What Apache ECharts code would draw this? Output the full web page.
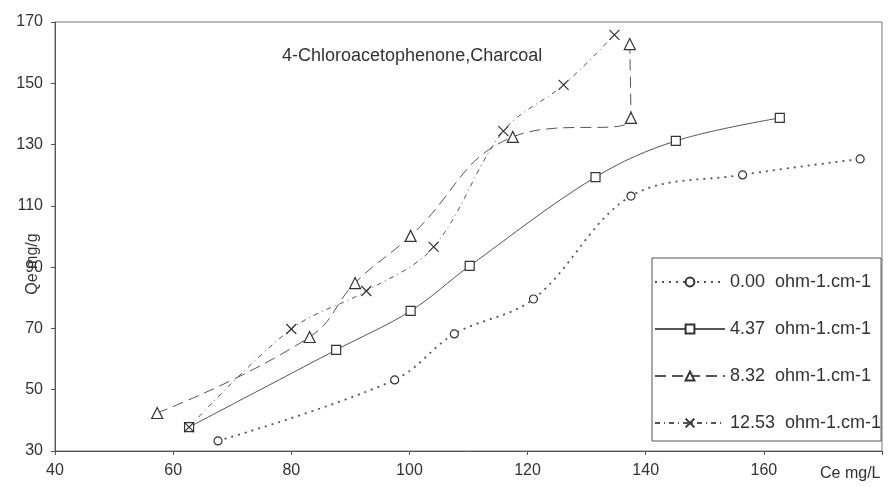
<!DOCTYPE html>
<html><head><meta charset="utf-8">
<script src="https://cdn.jsdelivr.net/npm/echarts@6/dist/echarts.min.js"></script>
<style>html,body{margin:0;padding:0;background:#fff}#c{width:896px;height:487px}</style>
</head><body><div id="c"></div>
<script>
// ---- data ----
const chartTitle = '4-Chloroacetophenone,Charcoal';
const xAxisTitle = 'Ce mg/L';
const yAxisTitle = 'Qe mg/g';
const seriesNames = ['0.00  ohm-1.cm-1', '4.37  ohm-1.cm-1', '8.32  ohm-1.cm-1', '12.53  ohm-1.cm-1'];

const ce_000 = [67.6, 97.5, 107.6, 121.0, 137.5, 156.4, 176.3];
const qe_000 = [33.3, 53.2, 68.2, 79.6, 113.2, 120.1, 125.3];

const ce_437 = [62.7, 87.6, 100.2, 110.2, 131.5, 145.1, 162.7];
const qe_437 = [37.8, 63.0, 75.7, 90.4, 119.4, 131.2, 138.7];

const ce_832 = [57.3, 83.1, 90.8, 100.2, 117.5, 137.5, 137.3];
const qe_832 = [42.4, 67.2, 84.8, 100.2, 132.5, 138.7, 162.8];

const ce_1253 = [62.7, 80.0, 92.7, 104.1, 115.9, 126.1, 134.7];
const qe_1253 = [37.8, 69.8, 82.2, 96.6, 134.4, 149.5, 165.8];

const xTicks = [40, 60, 80, 100, 120, 140, 160, 180];
const yTicks = [30, 50, 70, 90, 110, 130, 150, 170];
// --------------------------------------

const pair = (xs, ys) => xs.map((x, i) => [x, ys[i]]);
const FONT = '"Liberation Sans", Arial, sans-serif';
const markerStyle = { color: '#fff', borderColor: '#333', borderWidth: 1.2 };
const lineColor = '#555';

const chart = echarts.init(document.getElementById('c'), null, { renderer: 'canvas' });
chart.setOption({
  animation: false,
  backgroundColor: '#fff',
  textStyle: { fontFamily: FONT },
  title: {
    text: chartTitle, left: 277, top: 42,
    textStyle: { fontSize: 18, fontWeight: 'normal', color: '#333', fontFamily: FONT }
  },
  grid: { left: 55, right: 14, top: 22, bottom: 36, show: true, borderColor: '#777', borderWidth: 1 },
  xAxis: {
    type: 'value', min: xTicks[0], max: xTicks[xTicks.length - 1], interval: 20,
    axisLine: { lineStyle: { color: '#555' } },
    axisTick: { show: true, length: 4, lineStyle: { color: '#555' } },
    splitLine: { show: false },
    axisLabel: { fontSize: 16, color: '#333', margin: 12, fontFamily: FONT,
      formatter: v => (v === xTicks[xTicks.length - 1] ? '' : String(v)) }
  },
  yAxis: {
    type: 'value', min: yTicks[0], max: yTicks[yTicks.length - 1], interval: 20,
    axisLine: { show: true, lineStyle: { color: '#555' } },
    axisTick: { show: true, length: 4, lineStyle: { color: '#555' } },
    splitLine: { show: false },
    axisLabel: { fontSize: 16, color: '#333', margin: 12, fontFamily: FONT }
  },
  legend: {
    orient: 'vertical', left: 652, top: 258,
    padding: [15, 0, 9, 2], itemGap: 29, itemWidth: 70, itemHeight: 11,
    borderColor: '#555', borderWidth: 1, backgroundColor: '#fff',
    textStyle: { fontSize: 18, color: '#333', fontFamily: FONT },
    data: seriesNames
  },
  graphic: [
    { type: 'text', left: 820, top: 466, style: { text: xAxisTitle, font: '16px ' + FONT, fill: '#333' } },
    { type: 'text', x: 33, y: 264, rotation: Math.PI / 2,
      style: { text: yAxisTitle, font: '16px ' + FONT, fill: '#333', align: 'center', verticalAlign: 'middle' } }
  ],
  series: [
    { name: seriesNames[0], type: 'line', smooth: 0.35, data: pair(ce_000, qe_000),
      symbol: 'circle', symbolSize: 8, itemStyle: markerStyle,
      lineStyle: { color: lineColor, width: 1.8, type: [2, 5] } },
    { name: seriesNames[1], type: 'line', smooth: 0.35, data: pair(ce_437, qe_437),
      symbol: 'rect', symbolSize: 9, itemStyle: markerStyle,
      lineStyle: { color: lineColor, width: 1, type: 'solid' } },
    { name: seriesNames[2], type: 'line', smooth: 0.45, data: pair(ce_832, qe_832),
      symbol: 'triangle', symbolSize: 11, itemStyle: markerStyle,
      lineStyle: { color: lineColor, width: 1, type: [11, 6] } },
    { name: seriesNames[3], type: 'line', smooth: 0.35, data: pair(ce_1253, qe_1253),
      symbol: 'path://M0,0L10,10M10,0L0,10', symbolSize: 10, itemStyle: markerStyle,
      lineStyle: { color: lineColor, width: 1, type: [5, 4, 1, 4] } }
  ]
});
</script></body></html>
